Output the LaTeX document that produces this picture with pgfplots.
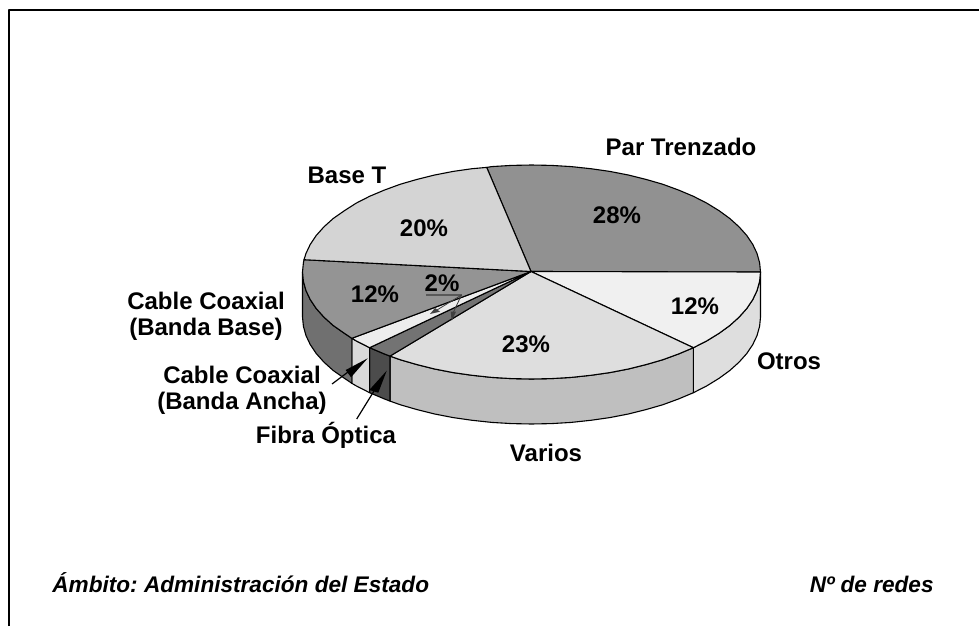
\documentclass[border=0pt]{standalone}
\usepackage{pgfplots}
\pgfplotsset{compat=1.18}
\usepackage{fontspec}
\setmainfont{Liberation Sans}
\frenchspacing
\definecolor{parT}{gray}{0.57}
\definecolor{otrosT}{gray}{0.94}
\definecolor{variosT}{gray}{0.87}
\definecolor{fibraT}{gray}{0.45}
\definecolor{anchaT}{gray}{0.93}
\definecolor{baseT}{gray}{0.58}
\definecolor{tT}{gray}{0.83}
\definecolor{otrosS}{gray}{0.87}
\definecolor{variosS}{gray}{0.75}
\definecolor{fibraS}{gray}{0.30}
\definecolor{anchaS}{gray}{0.85}
\definecolor{baseS}{gray}{0.44}
\tikzset{
    lbl/.style={font=\fontsize{12}{13}\selectfont\bfseries, align=center},
    foot/.style={font=\fontsize{11.3}{13}\selectfont\bfseries\itshape},
}
\begin{document}
\begin{tikzpicture}
\begin{axis}[
    scale only axis,
    width=489.5pt, height=313pt,
    xmin=0, xmax=979, ymin=0, ymax=626,
    y dir=reverse,
    axis lines=none,
    every axis plot/.append style={line width=0.55pt, line join=round},
]
% keeps the page at the full size
\path (axis cs:0,0) rectangle (axis cs:979,626);
% frame, only top and left are inside the picture
\addplot[black, line width=0.9pt] coordinates {(9,626) (9,10) (979,10)};

% side walls
\addplot[fill=otrosS, draw=black] coordinates {
 (760.5,272) (759.6,281.3) (757,290.6) (752.7,299.7) (746.7,308.6) (739,317.2) (729.8,325.5) (719.1,333.3) (706.9,340.8) (693.4,347.7)
 (693.4,392.7) (706.9,385.8) (719.1,378.3) (729.8,370.5) (739,362.2) (746.7,353.6) (752.7,344.7) (757,335.6) (759.6,326.3) (760.5,317)
} --cycle;
\addplot[fill=variosS, draw=black] coordinates {
 (693.4,347.7) (678.7,353.9) (662.9,359.7) (646,364.6) (628.3,369) (609.8,372.6) (590.8,375.3) (571.3,377.4) (551.5,378.6) (531.5,379)
 (511.5,378.6) (491.7,377.4) (472.2,375.3) (453.2,372.6) (434.7,369) (417,364.6) (400.1,359.7) (390,356.1)
 (390,401.1) (400.1,404.7) (417,409.6) (434.7,414) (453.2,417.6) (472.2,420.3) (491.7,422.4) (511.5,423.6)
 (531.5,424) (551.5,423.6) (571.3,422.4) (590.8,420.3) (609.8,417.6) (628.3,414) (646,409.6) (662.9,404.7) (678.7,398.9) (693.4,392.7)
} --cycle;
\addplot[fill=fibraS, draw=black] coordinates {
 (390,356.1) (384.3,353.9) (369.6,347.7) (369.6,392.7) (384.3,398.9) (390,401.1)
} --cycle;
\addplot[fill=anchaS, draw=black] coordinates {
 (369.6,347.7) (356.1,340.8) (351.8,338.3) (351.8,383.3) (356.1,385.8) (369.6,392.7)
} --cycle;
\addplot[fill=baseS, draw=black] coordinates {
 (351.8,338.3) (344.4,333.3) (333.2,325.5) (324,317.2) (316.3,308.6) (310.3,299.7) (306,290.6) (303.4,281.3) (302.5,272)
 (302.5,317) (303.4,326.3) (306,335.6) (310.3,344.7) (316.3,353.6) (324,362.2) (333.2,370.5) (344.4,378.3) (351.8,383.3)
} --cycle;

% top face
\addplot[fill=parT, draw=black] coordinates {
 (531,271.5) (486.7,167.4) (491.7,166.6) (511.5,165.4) (531.5,165) (551.5,165.4) (571.3,166.6) (590.8,168.7) (609.8,171.4)
 (628.3,175) (646,179.4) (662.9,184.3) (678.7,190.1) (693.4,196.3) (706.9,203.2) (719.1,210.7) (729.8,218.5) (739,226.8)
 (746.7,235.4) (752.7,244.3) (757,253.4) (759.6,262.7) (760.5,272)
} --cycle;
\addplot[fill=otrosT, draw=black] coordinates {
 (531,271.5) (760.5,272) (759.6,281.3) (757,290.6) (752.7,299.7) (746.7,308.6) (739,317.2) (729.8,325.5) (719.1,333.3) (706.9,340.8) (693.4,347.7)
} --cycle;
\addplot[fill=variosT, draw=black] coordinates {
 (531,271.5) (693.4,347.7) (678.7,353.9) (662.9,359.7) (646,364.6) (628.3,369) (609.8,372.6) (590.8,375.3) (571.3,377.4) (551.5,378.6) (531.5,379)
 (511.5,378.6) (491.7,377.4) (472.2,375.3) (453.2,372.6) (434.7,369) (417,364.6) (400.1,359.7) (390,356.1)
} --cycle;
\addplot[fill=fibraT, draw=black] coordinates {
 (531,271.5) (390,356.1) (384.3,353.9) (369.6,347.7)
} --cycle;
\addplot[fill=anchaT, draw=black] coordinates {
 (531,271.5) (369.6,347.7) (356.1,340.8) (351.8,338.3)
} --cycle;
\addplot[fill=baseT, draw=black] coordinates {
 (531,271.5) (351.8,338.3) (344.4,333.3) (333.2,325.5) (324,317.2) (316.3,308.6) (310.3,299.7) (306,290.6) (303.4,281.3) (302.5,272) (303.4,262.7) (304,259.7)
} --cycle;
\addplot[fill=tT, draw=black] coordinates {
 (531,271.5) (304,259.7) (306,253.4) (310.3,244.3) (316.3,235.4) (324,226.8) (333.2,218.5) (344.4,210.7) (356.1,203.2) (369.6,196.3)
 (384.3,190.1) (400.1,184.3) (417,179.4) (434.7,175) (453.2,171.4) (472.2,168.7) (486.7,167.4)
} --cycle;

% leaders
\addplot[black, line width=0.6pt] coordinates {(332,384) (350,370.5)};
\addplot[fill=black, draw=none] coordinates {(367.7,358.3) (345.7,370) (351,377.3)} --cycle;
\addplot[black, line width=0.6pt] coordinates {(356.7,419) (374,391)};
\addplot[fill=black, draw=none] coordinates {(386.7,370.7) (369.3,390) (378.3,392.7)} --cycle;
\addplot[black!65, line width=1pt] coordinates {(426,294.5) (462,294.5)};
\addplot[black!75, line width=0.4pt] coordinates {(461.5,295) (437,310)};
\addplot[fill=black!75, draw=none] coordinates {(430,314) (435,308) (440,311.7)} --cycle;
\addplot[black!75, line width=0.4pt] coordinates {(461.5,295) (453.5,312)};
\addplot[fill=black!75, draw=none] coordinates {(451.7,320.7) (450.7,311.7) (456,311.7)} --cycle;

% labels
\node[lbl] at (axis cs:681,147) {Par Trenzado};
\node[lbl] at (axis cs:347,175) {Base T};
\node[lbl] at (axis cs:617,215) {28\%};
\node[lbl] at (axis cs:424,228) {20\%};
\node[lbl] at (axis cs:695,306) {12\%};
\node[lbl] at (axis cs:526,344) {23\%};
\node[lbl] at (axis cs:375,294) {12\%};
\node[lbl] at (axis cs:442,283) {2\%};
\node[lbl] at (axis cs:206,316) {Cable Coaxial\\(Banda Base)};
\node[lbl] at (axis cs:242,390) {Cable Coaxial\\(Banda Ancha)};
\node[lbl] at (axis cs:326,435) {Fibra Óptica};
\node[lbl] at (axis cs:789,361) {Otros};
\node[lbl] at (axis cs:546,453) {Varios};
\node[foot, anchor=base west, inner sep=0pt] at (axis cs:52,592) {Ámbito: Administración del Estado};
\node[foot, anchor=base east, inner sep=0pt] at (axis cs:934,592) {Nº de redes};
\end{axis}
\end{tikzpicture}
\end{document}
